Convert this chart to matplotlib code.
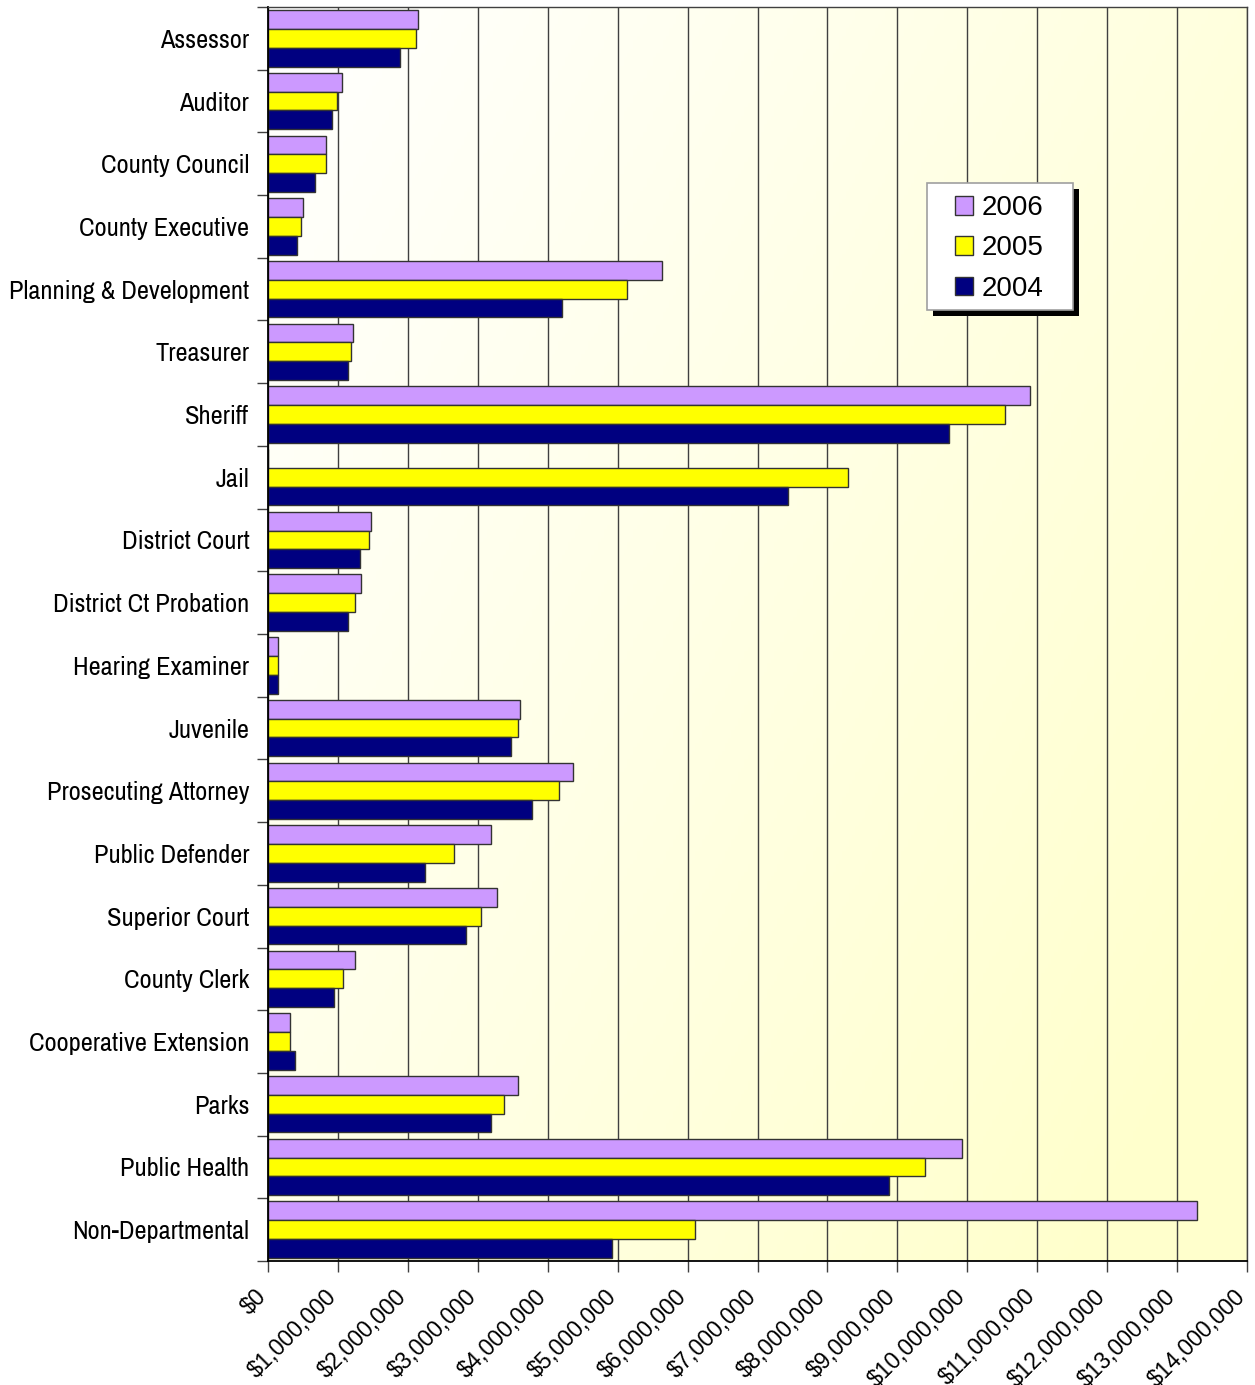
import matplotlib
matplotlib.use("Agg")
import matplotlib.pyplot as plt
import numpy as np
from matplotlib import font_manager
from matplotlib.patches import Rectangle
from matplotlib.ticker import FuncFormatter, MultipleLocator
from matplotlib.transforms import ScaledTranslation

# departments, top to bottom
departments = ["Assessor", "Auditor", "County Council", "County Executive",
               "Planning & Development", "Treasurer", "Sheriff", "Jail",
               "District Court", "District Ct Probation", "Hearing Examiner",
               "Juvenile", "Prosecuting Attorney", "Public Defender",
               "Superior Court", "County Clerk", "Cooperative Extension",
               "Parks", "Public Health", "Non-Departmental"]

# budget in millions of dollars
budget_2006 = [2.14, 1.06, 0.83, 0.50, 5.63, 1.22, 10.90, 0.0, 1.47, 1.33,
               0.14, 3.60, 4.36, 3.19, 3.27, 1.24, 0.31, 3.575, 9.93, 13.28]
budget_2005 = [2.11, 0.99, 0.83, 0.47, 5.13, 1.19, 10.54, 8.29, 1.44, 1.25,
               0.14, 3.575, 4.16, 2.66, 3.05, 1.07, 0.31, 3.37, 9.40, 6.10]
budget_2004 = [1.89, 0.92, 0.67, 0.42, 4.21, 1.14, 9.74, 7.44, 1.31, 1.14,
               0.14, 3.47, 3.775, 2.25, 2.83, 0.94, 0.39, 3.19, 8.88, 4.92]

years = ["2006", "2005", "2004"]
colors = ["#CC99FF", "#FFFF00", "#000080"]


def narrow_font():
    # look for an upright, regular-weight condensed sans face
    best = None
    for f in font_manager.fontManager.ttflist:
        if f.style != "normal" or f.weight not in (400, "normal", "regular"):
            continue
        name = f.name.lower()
        fn = f.fname.lower()
        if "mono" in name or "serif" in name and "sans" not in name:
            continue
        if "extracondensed" in fn or "ultracondensed" in fn:
            continue
        score = None
        if "narrow" in name or "narrow" in fn:
            score = 0
        elif f.stretch == "condensed" or "-condensed" in fn or "condensed." in fn:
            score = 1
        elif f.stretch == "semi-condensed" or "semicondensed" in fn:
            score = 2
        if score is not None and (best is None or score < best[0]):
            best = (score, f.fname)
    return best[1] if best else None


fig = plt.figure(figsize=(12.55, 13.85), dpi=100)
ax = fig.add_axes([268/1255, 1 - 1261/1385, 979/1255, 1254/1385])

n = len(departments)
y = np.arange(n)
h = 0.3

# cream background, whiter in the top-left corner
gx, gy = np.meshgrid(np.linspace(0, 1, 300), np.linspace(0, 1, 300))
t = np.clip(0.65*gx + 0.45*gy, 0, 1)
bg = np.ones((300, 300, 3))
bg[..., 2] = 1 - t*(51/255)
ax.imshow(bg, extent=[0, 14, n - 0.5, -0.5], aspect="auto", zorder=0)

series = [budget_2006, budget_2005, budget_2004]
for i, (vals, c, yr) in enumerate(zip(series, colors, years)):
    ax.barh(y + (i - 1)*h, vals, height=h, color=c, edgecolor="#333333",
            linewidth=1.0, label=yr, zorder=2)

ax.set_xlim(0, 14)
ax.set_ylim(n - 0.5, -0.5)

ax.xaxis.set_major_locator(MultipleLocator(1))
ax.xaxis.set_major_formatter(FuncFormatter(
    lambda v, p: "$0" if v == 0 else "${:,.0f}".format(v*1e6)))
ax.grid(axis="x", color="#404040", linewidth=1.0, zorder=1)
ax.set_axisbelow(True)

ax.set_yticks(y)
ax.set_yticklabels(departments)
ax.set_yticks(np.arange(n + 1) - 0.5, minor=True)
ax.tick_params(axis="y", which="major", length=0, pad=13.5)
ax.tick_params(axis="y", which="minor", length=8, width=1, color="#404040")
ax.tick_params(axis="x", length=8, width=1, color="#404040", pad=15)

narrow = narrow_font()
for lab in ax.get_yticklabels():
    if narrow:
        lab.set_fontproperties(font_manager.FontProperties(fname=narrow, size=19))
    else:
        lab.set_family(["Liberation Sans", "DejaVu Sans"])
        lab.set_fontsize(15.5)

shift = ScaledTranslation(-5/100, 0, fig.dpi_scale_trans)
for lab in ax.get_xticklabels():
    lab.set_family(["Liberation Sans", "DejaVu Sans"])
    lab.set_fontsize(16.5)
    lab.set_rotation(45)
    lab.set_ha("right")
    lab.set_va("center")
    lab.set_rotation_mode("anchor")
    lab.set_transform(lab.get_transform() + shift)

for s in ["top", "right"]:
    ax.spines[s].set_color("#404040")
    ax.spines[s].set_linewidth(1.0)
for s in ["left", "bottom"]:
    ax.spines[s].set_color("black")
    ax.spines[s].set_linewidth(1.3)

# legend box with a solid black drop shadow
W, H = 1255, 1385
bx0, by0, bx1, by1 = 927, 183, 1073, 310
ax.add_patch(Rectangle(((bx0 + 6)/W, 1 - (by1 + 6)/H), (bx1 - bx0)/W, (by1 - by0)/H,
                       transform=fig.transFigure, facecolor="black",
                       edgecolor="none", zorder=5, clip_on=False))
ax.add_patch(Rectangle((bx0/W, 1 - by1/H), (bx1 - bx0)/W, (by1 - by0)/H,
                       transform=fig.transFigure, facecolor="white",
                       edgecolor="#A0A0A0", linewidth=1.2, zorder=5.5,
                       clip_on=False))
leg = ax.legend(loc="upper left", bbox_to_anchor=(955/W, 1 - 195/H),
                bbox_transform=fig.transFigure, frameon=False,
                prop={"family": ["Liberation Sans", "DejaVu Sans"], "size": 20},
                handlelength=0.65, handleheight=0.65, handletextpad=0.32,
                labelspacing=0.52, borderpad=0, borderaxespad=0)
leg.set_zorder(6)

fig.savefig("out.png", dpi=100)
